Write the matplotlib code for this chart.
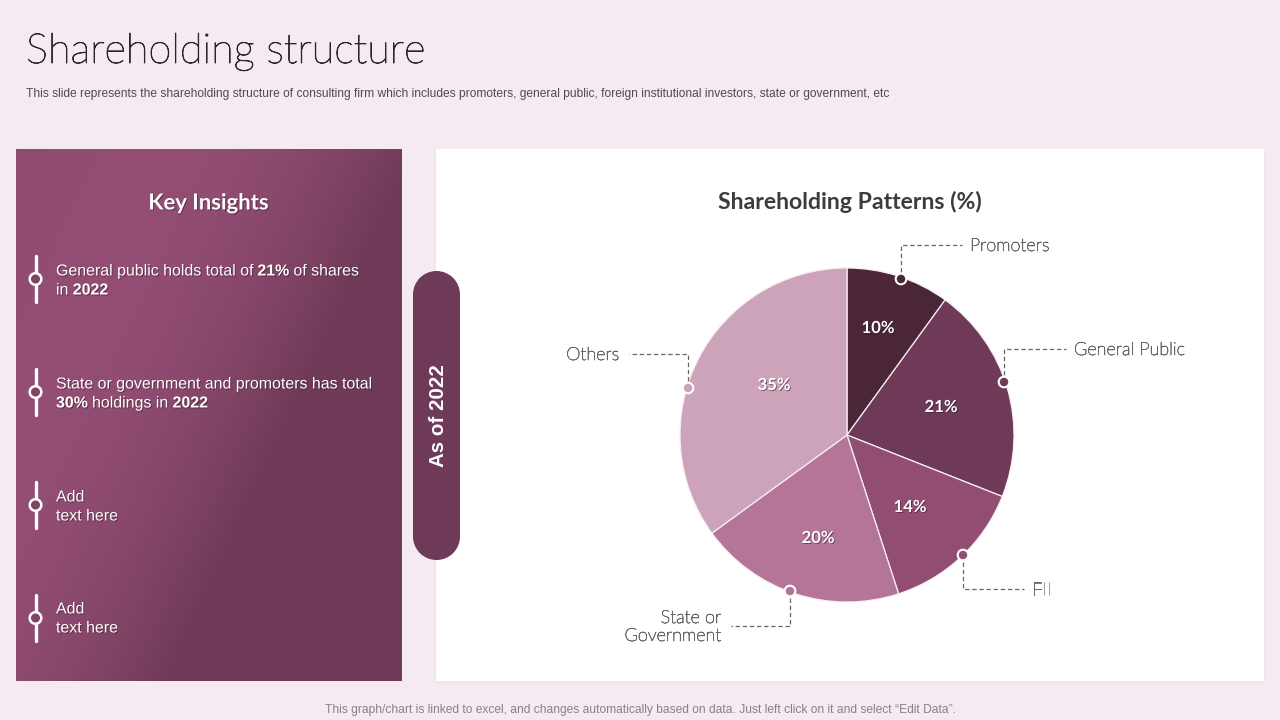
import numpy as np
import matplotlib
matplotlib.use("Agg")
import matplotlib.pyplot as plt
import matplotlib.patheffects as pe
from matplotlib.colors import LinearSegmentedColormap
from matplotlib.patches import Rectangle, Circle

# ---------- data ----------
categories = ["Promoters", "General Public", "FII", "State or\nGovernment", "Others"]
shares = [10, 21, 14, 20, 35]
slice_colors = ["#4a2637", "#6e3a57", "#924d73", "#b57598", "#cca3b8"]
title = "Shareholding structure"
subtitle = ("This slide represents the shareholding structure of consulting firm which includes promoters, "
            "general public, foreign institutional investors, state or government, etc")
footer = "This graph/chart is linked to excel, and changes automatically based on data. Just left click on it and select \u201cEdit Data\u201d."
chart_title = "Shareholding Patterns (%)"
panel_title = "Key Insights"
badge_text = "As of 2022"
insights = [
    [[("General public holds total of ", False), ("21%", True), ("of shares", False)],
     [("in ", False), ("2022", True)]],
    [[("State or government and promoters has total", False)],
     [("30%", True), ("holdings in ", False), ("2022", True)]],
    [[("Add", False)], [("text here", False)]],
    [[("Add", False)], [("text here", False)]],
]

# ---------- layout ----------
BG = "#f5eaf1"
label_px = [(878, 327), (941, 406), (910, 506), (818, 537), (774, 384)]
slider_y = [279, 392, 505, 618]
text_y = [271, 384, 497, 609]
callouts = [
    ([(901, 279), (901, 245), (962, 245)], (970, 245), "left"),
    ([(1004, 382), (1004, 349), (1066, 349)], (1074, 349), "left"),
    ([(963, 555), (963, 589), (1024, 589)], (1032, 589), "left"),
    ([(790, 591), (790, 626), (731, 626)], (721, 626), "right"),
    ([(688, 388), (688, 354), (629, 354)], (619, 354), "right"),
]

fig = plt.figure(figsize=(12.8, 7.2), dpi=100, facecolor=BG)


def full_axes(z):
    a = fig.add_axes([0, 0, 1, 1], zorder=z)
    a.set_xlim(0, 1280)
    a.set_ylim(720, 0)
    a.axis("off")
    a.patch.set_alpha(0)
    return a


bg = full_axes(0)
fg = full_axes(2)


def thicken(color, w):
    return [pe.withStroke(linewidth=w, foreground=color)]


# header / footer
bg.text(26, 52, title, fontsize=29.9, family="Lato", weight="light", color="#2e2428", va="center", ha="left",
        path_effects=thicken("#2e2428", 0.6))
bg.text(26, 94.5, subtitle, fontsize=8.64, family="Liberation Sans", color="#55484f", va="center", ha="left")
bg.text(640.5, 710.5, footer, fontsize=8.66, family="Liberation Sans", color="#8b8086", va="center", ha="center")

# left gradient panel
xx, yy = np.meshgrid(np.arange(16, 402), np.arange(149, 681))
t = 0.9 * xx + 0.42 * yy
u = np.clip((t - 198) / (440 - 198), 0, 1)
s = u ** 2 + np.clip((198 - t) / 900, 0, 1)
cmap = LinearSegmentedColormap.from_list("panel", ["#944e74", "#6e3a57"], N=1024)
bg.imshow(s, cmap=cmap, vmin=0, vmax=1,
          extent=(16, 402, 681, 149), aspect="auto", interpolation="bilinear", zorder=1)
bg.set_xlim(0, 1280)
bg.set_ylim(720, 0)

# white card with soft shadow
bg.add_patch(Rectangle((434, 149), 832, 535, fc="#f0e7ec", ec="none", zorder=1))
bg.add_patch(Rectangle((436, 149), 828, 532, fc="white", ec="none", zorder=2))

# badge
bg.add_patch(Rectangle((413, 294.5), 47, 242, fc="#6e3a57", ec="none", zorder=3))
bg.add_patch(Circle((436.5, 294.5), 23.5, fc="#6e3a57", ec="none", zorder=3))
bg.add_patch(Circle((436.5, 536.5), 23.5, fc="#6e3a57", ec="none", zorder=3))
bg.text(438.5, 415.5, badge_text, rotation=90, fontsize=14.8, family="Liberation Sans", weight="bold",
        color="white", ha="center", va="center", zorder=4)

shadow = [pe.withSimplePatchShadow(offset=(0.7, -0.7), shadow_rgbFace="#2a1420", alpha=0.5)]

bg.text(208.5, 203, panel_title, fontsize=15.9, family="Lato", weight="bold", color="white",
        ha="center", va="center", zorder=4, path_effects=shadow)
bg.text(850, 202, chart_title, fontsize=16.6, family="Lato", weight="bold", color="#3f3a3c",
        ha="center", va="center", zorder=4)

# insights
renderer = fig.canvas.get_renderer()
for yc, ty, lines in zip(slider_y, text_y, insights):
    bg.plot([35.5, 35.5], [yc - 23, yc + 23], color="white", lw=2.4, solid_capstyle="round", zorder=4)
    bg.add_patch(Circle((35.5, yc), 5.8, fc="#804464", ec="white", lw=1.8, zorder=5))
    for k, segs in enumerate(lines):
        x = 56
        y = ty + 19 * k
        for txt, bold in segs:
            a = bg.text(x, y, txt.rstrip(), fontsize=11.47, family="Liberation Sans",
                        weight="bold" if bold else "normal", color="white", ha="left", va="center",
                        zorder=5, path_effects=shadow)
            x = a.get_window_extent(renderer).x1 + 4.4

# pie
cx, cy, r = 847, 435, 167
pie_ax = fig.add_axes([(cx - r) / 1280, 1 - (cy + r) / 720, 2 * r / 1280, 2 * r / 720], zorder=1)
pie_ax.patch.set_alpha(0)
wedges, _ = pie_ax.pie(shares, colors=slice_colors, startangle=90, counterclock=False, radius=1,
                       wedgeprops=dict(edgecolor="#f7eef3", linewidth=0.9))
pie_ax.set_xlim(-1, 1)
pie_ax.set_ylim(-1, 1)
pie_ax.set_aspect("equal")

# percentage labels and callouts
for v, (px, py) in zip(shares, label_px):
    fg.text(px, py + 1, f"{v}%", fontsize=12, family="Lato", weight="bold",
            color="white", ha="center", va="center", path_effects=shadow, zorder=3)
for (pts, lab, ha), name, col in zip(callouts, categories, slice_colors):
    xs, ys = zip(*pts)
    fg.plot(xs, ys, color="#6b6468", lw=0.9, dashes=(3.5, 2.2), zorder=1)
    fg.add_patch(Circle(pts[0], 5.3, fc=col, ec="white", lw=1.5, zorder=2))
    fg.text(lab[0], lab[1] + 1, name, fontsize=13.0, family="Lato", weight="light", color="#6b6468",
            ha=ha, va="center", linespacing=1.15, zorder=3, path_effects=thicken("#6b6468", 0.45))

fig.savefig("out.png", dpi=100, facecolor=BG)
